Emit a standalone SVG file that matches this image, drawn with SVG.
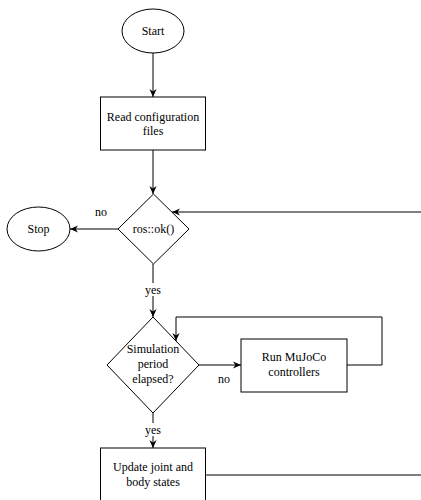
<svg xmlns="http://www.w3.org/2000/svg" width="421" height="500" viewBox="0 0 421 500">
<style>
.shape{fill:#fff;stroke:#000;stroke-width:1}
.edge{fill:none;stroke:#000;stroke-width:1}
.t{font-family:'Liberation Serif','DejaVu Serif',serif;font-size:12px;fill:#000;text-anchor:middle}
</style>
<defs>
<marker id="arr" viewBox="0 0 10 10" refX="10" refY="5" markerWidth="8" markerHeight="8" markerUnits="userSpaceOnUse" orient="auto">
<path d="M0,0.5 L10,5 L0,9.5 L3,5 z" fill="#000"/>
</marker>
</defs>
<rect width="421" height="500" fill="#fff"/>
<g id="connectors">
<path class="edge" d="M153,53 V97" marker-end="url(#arr)"/>
<path class="edge" d="M153,150 V194" marker-end="url(#arr)"/>
<path class="edge" d="M118,229 H70" marker-end="url(#arr)"/>
<text class="t" x="101" y="216">no</text>
<path class="edge" d="M421,212 H172" marker-end="url(#arr)"/>
<path class="edge" d="M153,264 V317" marker-end="url(#arr)"/>
<rect x="141" y="283" width="24" height="13" fill="#fff"/>
<text class="t" x="153" y="294">yes</text>
<path class="edge" d="M199,365 H241" marker-end="url(#arr)"/>
<text class="t" x="224" y="383">no</text>
<path class="edge" d="M347,365 H382 V317 H176 V341" marker-end="url(#arr)"/>
<path class="edge" d="M153,413 V448" marker-end="url(#arr)"/>
<rect x="141" y="423" width="24" height="13" fill="#fff"/>
<text class="t" x="153" y="434">yes</text>
<path class="edge" d="M206,475 H421"/>
</g>
<g id="start">
<ellipse class="shape" cx="153" cy="31" rx="31" ry="22"/>
<text class="t" x="153" y="35">Start</text>
</g>
<g id="read-config">
<rect class="shape" x="100.5" y="97" width="105" height="53"/>
<text class="t" x="153" y="121">Read configuration</text>
<text class="t" x="153" y="135">files</text>
</g>
<g id="ros-ok">
<path class="shape" d="M153.5,194 L189,229 L153.5,264 L118,229 Z"/>
<text class="t" x="153.5" y="233">ros::ok()</text>
</g>
<g id="stop">
<ellipse class="shape" cx="38.5" cy="229" rx="31.5" ry="22"/>
<text class="t" x="38.5" y="233">Stop</text>
</g>
<g id="sim-period">
<path class="shape" d="M153,317 L199,365 L153,413 L107,365 Z"/>
<text class="t" x="153" y="353">Simulation</text>
<text class="t" x="153" y="368">period</text>
<text class="t" x="153" y="383">elapsed?</text>
</g>
<g id="run-mujoco">
<rect class="shape" x="241" y="339" width="106" height="53"/>
<text class="t" x="294" y="361">Run MuJoCo</text>
<text class="t" x="294" y="376">controllers</text>
</g>
<g id="update-states">
<rect class="shape" x="100.5" y="448" width="105" height="53"/>
<text class="t" x="153" y="471">Update joint and</text>
<text class="t" x="153" y="486">body states</text>
</g>
</svg>
